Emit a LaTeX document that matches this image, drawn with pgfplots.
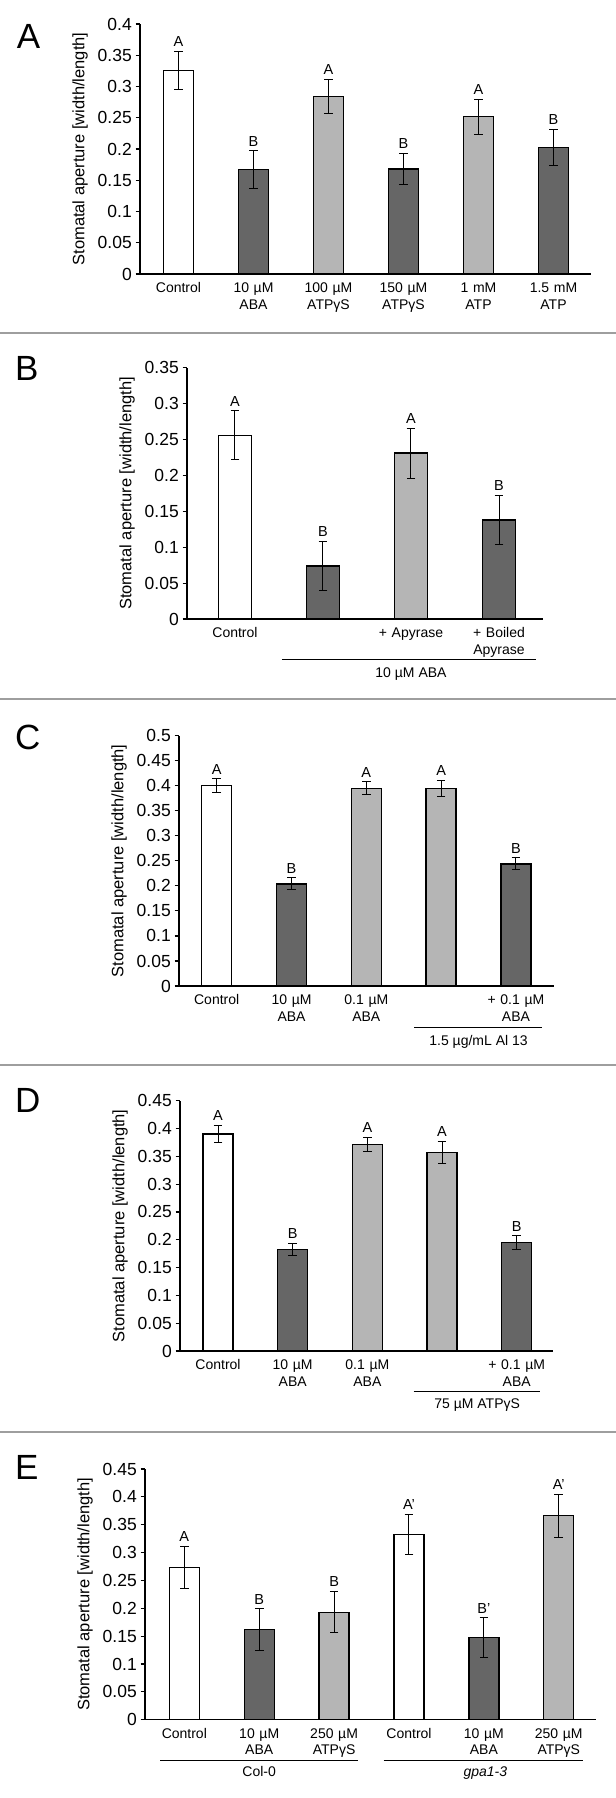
\documentclass[border=0pt]{standalone}
\usepackage{fontspec}
\setmainfont{Liberation Sans}
\usepackage{pgfplots}
\pgfplotsset{compat=1.18}
\definecolor{darkbar}{gray}{0.40}
\definecolor{lightbar}{gray}{0.71}
\definecolor{sepgray}{gray}{0.62}
\newcommand\fs[2]{\fontsize{#1}{#2}\selectfont}
\pgfplotsset{
 panel/.style={
  scale only axis, anchor=south west,
  axis x line*=bottom, axis y line*=left,
  axis line style={line width=1.3bp, black},
  ymin=0, clip=false, enlargelimits=false,
  tick align=outside, major tick length=4.5bp,
  xtick style={draw=none},
  ytick style={line width=1.1bp, black},
  scaled y ticks=false,
  /pgf/number format/fixed, /pgf/number format/precision=2,
  /pgf/number format/assume math mode=true,
  yticklabel style={font=\fs{17.5bp}{17.5bp}, inner sep=0pt, xshift=-3.5bp},
  xticklabel style={font=\fs{14bp}{16.7bp}, text width=90bp, align=center, anchor=north, inner sep=0pt, yshift=-4bp},
  ylabel={Stomatal aperture [width/length]},
  ylabel style={at={([xshift=-60bp]axis description cs:0,0.5)}, anchor=center, font=\fs{16.5bp}{16.5bp}, inner sep=0pt},
 },
 bars/.style={ybar, bar width=30bp, bar shift=0pt, draw=black, line width=1.3bp,
  /pgfplots/error bars/y dir=both, /pgfplots/error bars/y explicit,
  /pgfplots/error bars/error bar style={line width=1bp, black},
  /pgfplots/error bars/error mark options={rotate=90, line width=1bp, mark size=4.3bp, black}},
 letters/.style={draw=none, mark=none, nodes near coords, point meta=explicit symbolic,
  nodes near coords style={anchor=south, inner sep=0pt, yshift=4.5bp, font=\fs{14.5bp}{14.5bp}, text=black}},
}
\begin{document}
\begin{tikzpicture}
\path[use as bounding box] (0,0) rectangle (616bp,-1798bp);
% separators
\foreach \yy in {333,699,1065.3,1431.5}{\draw[sepgray, line width=2bp] (0,-\yy bp) -- (616bp,-\yy bp);}
% panel letters
\foreach \lt/\xx/\yy in {A/16.7/24, B/15/356.7, C/15/725, D/15/1088, E/15/1455}{
 \node[anchor=north west, inner sep=0pt, font=\fs{35bp}{35bp}] at (\xx bp,-\yy bp) {\lt};}

% ---------- Panel A ----------
\begin{axis}[panel, at={(140bp,-274bp)}, width=451bp, height=250bp,
  xmin=-0.513, xmax=5.5, ymax=0.4,
  ytick={0,0.05,0.1,0.15,0.2,0.25,0.3,0.35,0.4},
  xtick={0,1,2,3,4,5},
  xticklabels={Control, 10 µM\\ABA, 100 µM\\ATPγS, 150 µM\\ATPγS, 1 mM\\ATP, 1.5 mM\\ATP}]
\addplot[fill=white, bars] coordinates {(0,0.326) +- (0,0.030)};
\addplot[fill=darkbar, bars] coordinates {(1,0.167) +- (0,0.030) (3,0.168) +- (0,0.025) (5,0.202) +- (0,0.029)};
\addplot[fill=lightbar, bars] coordinates {(2,0.284) +- (0,0.027) (4,0.252) +- (0,0.028)};
\addplot[letters] coordinates {(0,0.356)[A] (1,0.197)[B] (2,0.311)[A] (3,0.193)[B] (4,0.280)[A] (5,0.231)[B]};
\end{axis}

% ---------- Panel B ----------
\begin{axis}[panel, at={(187bp,-619bp)}, width=356bp, height=251.3bp,
  xmin=-0.545, xmax=3.5, ymax=0.35,
  ytick={0,0.05,0.1,0.15,0.2,0.25,0.3,0.35},
  xtick={0,2,3},
  xticklabels={Control, + Apyrase, + Boiled\\Apyrase}]
\addplot[fill=white, bars, bar width=32.5bp] coordinates {(0,0.256) +- (0,0.034)};
\addplot[fill=darkbar, bars, bar width=32.5bp] coordinates {(1,0.074) +- (0,0.034) (3,0.138) +- (0,0.034)};
\addplot[fill=lightbar, bars, bar width=32.5bp] coordinates {(2,0.231) +- (0,0.035)};
\addplot[letters] coordinates {(0,0.290)[A] (1,0.108)[B] (2,0.266)[A] (3,0.172)[B]};
\draw[line width=1.3bp] ([yshift=-40.5bp]axis cs:0.534,0) -- ([yshift=-40.5bp]axis cs:3.42,0);
\node[anchor=base, inner sep=0pt, font=\fs{14bp}{14bp}] at ([yshift=-58bp]axis cs:2,0) {10 µM ABA};
\end{axis}

% ---------- Panel C ----------
\begin{axis}[panel, at={(179bp,-986bp)}, width=375bp, height=250.3bp,
  xmin=-0.504, xmax=4.509, ymax=0.5,
  ytick={0,0.05,0.1,0.15,0.2,0.25,0.3,0.35,0.4,0.45,0.5},
  xtick={0,1,2,4},
  xticklabels={Control, 10 µM\\ABA, 0.1 µM\\ABA, + 0.1 µM\\ABA}]
\addplot[fill=white, bars] coordinates {(0,0.400) +- (0,0.014)};
\addplot[fill=darkbar, bars] coordinates {(1,0.204) +- (0,0.012) (4,0.244) +- (0,0.012)};
\addplot[fill=lightbar, bars] coordinates {(2,0.395) +- (0,0.013) (3,0.395) +- (0,0.016)};
\addplot[letters] coordinates {(0,0.414)[A] (1,0.216)[B] (2,0.408)[A] (3,0.411)[A] (4,0.256)[B]};
\draw[line width=1.3bp] ([yshift=-41.7bp]axis cs:2.644,0) -- ([yshift=-41.7bp]axis cs:4.342,0);
\node[anchor=base, inner sep=0pt, font=\fs{14bp}{14bp}] at ([yshift=-59bp]axis cs:3.5,0) {1.5 µg/mL Al 13};
\end{axis}

% ---------- Panel D ----------
\begin{axis}[panel, at={(180bp,-1351bp)}, width=373bp, height=250.3bp,
  xmin=-0.509, xmax=4.486, ymax=0.45,
  ytick={0,0.05,0.1,0.15,0.2,0.25,0.3,0.35,0.4,0.45},
  xtick={0,1,2,4},
  xticklabels={Control, 10 µM\\ABA, 0.1 µM\\ABA, + 0.1 µM\\ABA}]
\addplot[fill=white, bars] coordinates {(0,0.390) +- (0,0.016)};
\addplot[fill=darkbar, bars] coordinates {(1,0.183) +- (0,0.011) (4,0.195) +- (0,0.012)};
\addplot[fill=lightbar, bars] coordinates {(2,0.371) +- (0,0.013) (3,0.357) +- (0,0.020)};
\addplot[letters] coordinates {(0,0.406)[A] (1,0.194)[B] (2,0.384)[A] (3,0.377)[A] (4,0.207)[B]};
\draw[line width=1.3bp] ([yshift=-40.7bp]axis cs:2.62,0) -- ([yshift=-40.7bp]axis cs:4.31,0);
\node[anchor=base, inner sep=0pt, font=\fs{14bp}{14bp}] at ([yshift=-57bp]axis cs:3.47,0) {75 µM ATPγS};
\end{axis}

% ---------- Panel E ----------
\begin{axis}[panel, at={(145bp,-1719.7bp)}, width=451bp, height=250.7bp,
  xmin=-0.525, xmax=5.497, ymax=0.45,
  ytick={0,0.05,0.1,0.15,0.2,0.25,0.3,0.35,0.4,0.45},
  xtick={0,1,2,3,4,5},
  xticklabels={Control, 10 µM\\ABA, 250 µM\\ATPγS, Control, 10 µM\\ABA, 250 µM\\ATPγS}]
\addplot[fill=white, bars] coordinates {(0,0.273) +- (0,0.038) (3,0.333) +- (0,0.036)};
\addplot[fill=darkbar, bars] coordinates {(1,0.162) +- (0,0.037) (4,0.147) +- (0,0.036)};
\addplot[fill=lightbar, bars] coordinates {(2,0.193) +- (0,0.037) (5,0.366) +- (0,0.039)};
\addplot[letters] coordinates {(0,0.311)[A] (1,0.199)[B] (2,0.230)[B] (3,0.369)[A'] (4,0.183)[B'] (5,0.405)[A']};
\draw[line width=1.3bp] ([yshift=-41bp]axis cs:-0.324,0) -- ([yshift=-41bp]axis cs:2.32,0);
\draw[line width=1.3bp] ([yshift=-41bp]axis cs:2.66,0) -- ([yshift=-41bp]axis cs:5.32,0);
\node[anchor=base, inner sep=0pt, font=\fs{14bp}{14bp}] at ([yshift=-57bp]axis cs:1,0) {Col-0};
\node[anchor=base, inner sep=0pt, font=\fs{14bp}{14bp}] at ([yshift=-57bp]axis cs:4.02,0) {\textit{gpa1-3}};
\end{axis}
\end{tikzpicture}
\end{document}
